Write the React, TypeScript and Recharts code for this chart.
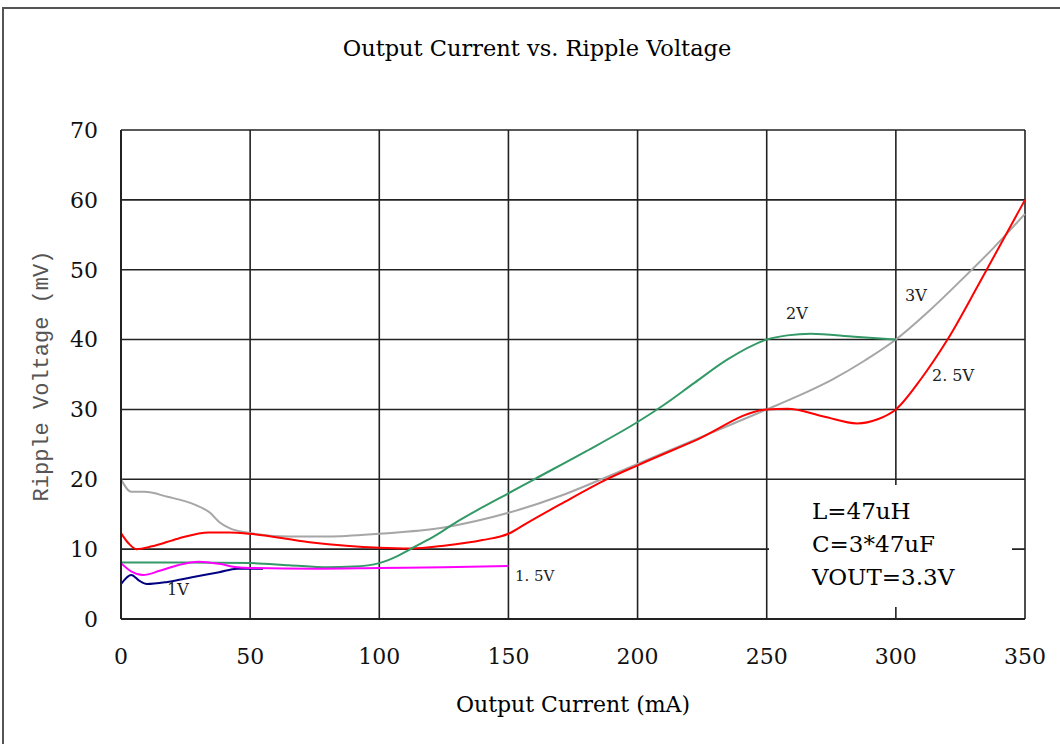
import React from "react";
import { LineChart, Line, XAxis, YAxis, CartesianGrid } from "recharts";

// x ticks (mA) and y ticks (mV)
const currentTicks = [0, 50, 100, 150, 200, 250, 300, 350];
const rippleTicks = [0, 10, 20, 30, 40, 50, 60, 70];

// VIN = 3V (gray)
const v3Current = [0, 4, 9, 18, 29, 34.5, 38, 42, 50, 65, 80, 100, 125, 150, 170, 186, 200, 225, 250, 262, 275, 288, 300, 312, 325, 338, 350];
const v3Ripple = [20, 18.2, 18.2, 17.5, 16.3, 15.2, 13.9, 13, 12.3, 11.8, 11.8, 12.2, 13.1, 15.2, 17.6, 20, 22.2, 26.1, 30, 31.9, 34.2, 37, 40, 43.8, 48.4, 53.2, 58];

// VIN = 2.5V (red)
const v25Current = [0, 3, 6, 12, 22, 34, 42, 50, 73, 100, 112, 125, 140, 150, 157, 170, 188, 200, 222, 250, 258, 272, 285, 293, 300, 310, 320, 332.5, 350];
const v25Ripple = [12.3, 10.8, 10, 10.4, 11.5, 12.4, 12.4, 12.2, 11, 10.2, 10.1, 10.5, 11.3, 12.2, 13.7, 16.4, 20, 22, 25.5, 30, 30.1, 29, 28, 28.6, 30, 34.5, 40, 48.2, 60];

// VIN = 2V (green)
const v2Current = [0, 25, 50, 65, 80, 90, 100, 107, 113, 122, 130, 140, 150, 160, 180, 200, 210, 222, 235, 250, 258, 267, 284, 300];
const v2Ripple = [8.1, 8.1, 8.0, 7.7, 7.4, 7.5, 8.0, 9, 10.2, 12, 13.9, 16, 18, 20, 24, 28.2, 30.6, 33.8, 37.2, 40, 40.6, 40.85, 40.4, 40];

// VIN = 1V (navy)
const v1Current = [0, 4, 7, 10, 18, 28, 38, 45, 55];
const v1Ripple = [5.0, 6.3, 5.5, 5.0, 5.3, 6.0, 6.7, 7.2, 7.2];

// VIN = 1.5V (magenta)
const v15Current = [0, 4, 8.5, 15, 22, 30, 38, 45, 50, 75, 100, 125, 150];
const v15Ripple = [8, 6.8, 6.3, 6.9, 7.7, 8.2, 7.9, 7.4, 7.3, 7.2, 7.3, 7.4, 7.6];

const toPoints = (xs: number[], ys: number[]) => xs.map((x, i) => ({ x, y: ys[i] }));

const series = [
  { name: "3V", color: "#a6a6a6", data: toPoints(v3Current, v3Ripple) },
  { name: "2.5V", color: "#ff0000", data: toPoints(v25Current, v25Ripple) },
  { name: "2V", color: "#339966", data: toPoints(v2Current, v2Ripple) },
  { name: "1V", color: "#000080", data: toPoints(v1Current, v1Ripple) },
  { name: "1.5V", color: "#ff00ff", data: toPoints(v15Current, v15Ripple) },
];

const serif = "'DejaVu Serif', serif";
const tickStyle = { fontFamily: serif, fontSize: 22, fill: "#111" };

const abs = (left: number, top: number, extra: React.CSSProperties = {}): React.CSSProperties => ({
  position: "absolute",
  left,
  top,
  lineHeight: 1,
  whiteSpace: "nowrap",
  ...extra,
});

export default function App() {
  return (
    <div style={{ position: "relative", width: 1060, height: 744, overflow: "hidden", background: "#fff" }}>
      <style>{"body{margin:0}"}</style>
      <div
        style={{
          position: "absolute",
          left: 2,
          top: 7,
          width: 1100,
          height: 800,
          border: "2px solid #555",
          boxSizing: "border-box",
        }}
      />
      <LineChart width={1060} height={744} margin={{ top: 130, right: 35, left: 0, bottom: 0 }}>
        <CartesianGrid stroke="#222" strokeWidth={1.6} horizontalValues={rippleTicks} verticalValues={currentTicks} />
        <XAxis
          type="number"
          dataKey="x"
          domain={[0, 350]}
          ticks={currentTicks}
          height={125}
          tickSize={0}
          tickMargin={29}
          tickLine={false}
          axisLine={{ stroke: "#222", strokeWidth: 2 }}
          tick={tickStyle}
          allowDuplicatedCategory={false}
        />
        <YAxis
          type="number"
          domain={[0, 70]}
          ticks={rippleTicks}
          width={121}
          tickSize={0}
          tickMargin={23}
          tickLine={false}
          axisLine={{ stroke: "#222", strokeWidth: 2 }}
          tick={tickStyle}
        />
        {series.map((s) => (
          <Line
            key={s.name}
            data={s.data}
            dataKey="y"
            type="monotone"
            stroke={s.color}
            strokeWidth={2}
            dot={false}
            activeDot={false}
            isAnimationActive={false}
          />
        ))}
      </LineChart>

      <div style={abs(237, 37, { width: 600, textAlign: "center", fontFamily: serif, fontSize: 22.5, color: "#000" })}>
        Output Current vs. Ripple Voltage
      </div>
      <div style={abs(373, 694, { width: 400, textAlign: "center", fontFamily: serif, fontSize: 22, color: "#000" })}>
        Output Current (mA)
      </div>
      <div
        style={abs(-107, 365, {
          width: 300,
          height: 22,
          textAlign: "center",
          fontFamily: "'Liberation Mono', monospace",
          fontSize: 22,
          color: "#555",
          transform: "rotate(-90deg)",
        })}
      >
        Ripple Voltage (mV)
      </div>

      <div
        style={{
          position: "absolute",
          left: 769,
          top: 485,
          width: 243,
          height: 122,
          background: "#fff",
          fontFamily: serif,
          fontSize: 23,
          color: "#000",
        }}
      >
        <div style={abs(43, 15)}>L=47uH</div>
        <div style={abs(43, 48)}>C=3*47uF</div>
        <div style={abs(43, 81)}>VOUT=3.3V</div>
      </div>

      <div style={abs(786, 306, { fontFamily: serif, fontSize: 16, color: "#222" })}>2V</div>
      <div style={abs(905, 288, { fontFamily: serif, fontSize: 16, color: "#222" })}>3V</div>
      <div style={abs(932, 368, { fontFamily: serif, fontSize: 16, color: "#222" })}>2. 5V</div>
      <div style={abs(515, 569, { fontFamily: serif, fontSize: 15, color: "#222" })}>1. 5V</div>
      <div style={abs(167, 582, { fontFamily: serif, fontSize: 16, color: "#222" })}>1V</div>
    </div>
  );
}
